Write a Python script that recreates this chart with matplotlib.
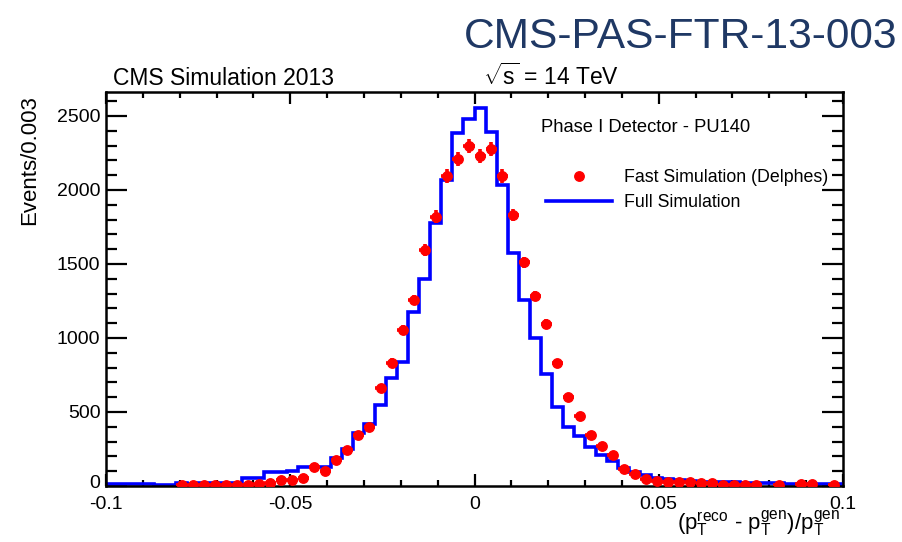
import numpy as np
import matplotlib
matplotlib.use("Agg")
import matplotlib.pyplot as plt
import matplotlib.transforms as mtransforms
from matplotlib.lines import Line2D
from matplotlib.ticker import MultipleLocator, FixedLocator

plt.rcParams['font.family'] = ['Liberation Sans', 'DejaVu Sans']
plt.rcParams['mathtext.fontset'] = 'custom'
plt.rcParams['mathtext.rm'] = 'Liberation Sans'
plt.rcParams['mathtext.it'] = 'Liberation Sans'
plt.rcParams['mathtext.default'] = 'regular'

# Binning of the resolution histogram: 0.003 wide bins, bin index k covers [k*w, (k+1)*w]
bin_width = 0.003
first_bin = -34
last_bin = 33

# Full simulation (histogram), bins k = -34 ... 33
full_sim = [15, 15, 12, 12, 12, 10, 10, 22, 15, 22,
            18, 18, 18, 52, 52, 97, 97, 100, 126, 128,
            130, 190, 250, 360, 420, 545, 728, 840, 1178, 1400,
            1775, 2068, 2383, 2478, 2553, 2394, 2034, 1572, 1257, 1002,
            757, 532, 397, 338, 266, 209, 169, 120, 93, 74,
            55, 45, 40, 35, 30, 28, 25, 25, 22, 20,
            20, 18, 15, 15, 14, 12, 12, 12]

# Fast simulation (Delphes) points, same bins; empty bins are not drawn
fast_sim = [0, 0, 0, 0, 0, 0, 0, 5, 6, 6,
            6, 7, 10, 10, 14, 18, 38, 40, 52, 126,
            103, 176, 240, 345, 400, 660, 833, 1054, 1257, 1595,
            1820, 2095, 2207, 2297, 2230, 2275, 2095, 1830, 1511, 1284,
            1095, 829, 604, 475, 345, 272, 209, 115, 79, 47,
            36, 29, 26, 25, 22, 18, 9, 9, 9, 9,
            0, 5, 0, 13, 13, 0, 9, 0]

x_ticks = [-0.1, -0.05, 0, 0.05, 0.1]
x_tick_labels = ["-0.1", "-0.05", "0", "0.05", "0.1"]
y_ticks = [0, 500, 1000, 1500, 2000, 2500]

full = np.array(full_sim, dtype=float)
fast = np.array(fast_sim, dtype=float)
edges = np.arange(first_bin, last_bin + 2) * bin_width
centers = 0.5 * (edges[:-1] + edges[1:])

fig = plt.figure(figsize=(9.02, 5.42), dpi=100)
ax = fig.add_axes([106 / 902, 1 - 486 / 542, 737 / 902, 394 / 542])

ax.stairs(full, edges, color='#0000ff', lw=2.6, baseline=None, zorder=2)

mask = fast > 0
ax.errorbar(centers[mask], fast[mask], yerr=np.sqrt(fast[mask]),
            xerr=0.0015, fmt='o', color='#ff0000', ms=6.8,
            elinewidth=2.6, capsize=0, zorder=3)

ax.set_xlim(-0.1, 0.1)
ax.set_ylim(0, 2662)

ax.xaxis.set_major_locator(FixedLocator(x_ticks))
ax.set_xticklabels(x_tick_labels)
ax.xaxis.set_minor_locator(MultipleLocator(0.01))
ax.yaxis.set_major_locator(FixedLocator(y_ticks))
ax.yaxis.set_minor_locator(MultipleLocator(100))

ax.tick_params(axis='both', which='both', direction='in', top=True, right=True,
               width=1.6, labelsize=14, colors='black')
ax.tick_params(axis='x', which='major', length=8.3, pad=7)
ax.tick_params(axis='x', which='minor', length=4.3)
ax.tick_params(axis='y', which='major', length=15, pad=4)
ax.tick_params(axis='y', which='minor', length=7.6)
for s in ax.spines.values():
    s.set_linewidth(1.8)

# lift the "0" label of the y axis a little so it clears the x labels
zero_label = ax.get_yticklabels()[0]
zero_label.set_transform(zero_label.get_transform() +
                         mtransforms.ScaledTranslation(0, 3 / 72, fig.dpi_scale_trans))

ax.text(0.59, 0.909, "Phase I Detector - PU140", transform=ax.transAxes,
        fontsize=13.2, ha='left', va='center')

handles = [Line2D([], [], marker='o', color='#ff0000', ls='none', ms=6.8),
           Line2D([], [], color='#0000ff', lw=2.6)]
ax.legend(handles, ["Fast Simulation (Delphes)", "Full Simulation"],
          loc='upper left', bbox_to_anchor=(0.597, 0.805), frameon=False,
          fontsize=12.8, handlelength=3.7, handletextpad=0.7,
          labelspacing=0.45, borderpad=0, borderaxespad=0)

fig.text(113 / 902, 1 - 85 / 542, "CMS Simulation 2013", fontsize=16.5,
         ha='left', va='baseline')
fig.text(483 / 902, 1 - 85 / 542, r"$\sqrt{s}$ = 14 TeV", fontsize=16.5,
         ha='left', va='baseline')
fig.text(0.9945, 1 - 48 / 542, "CMS-PAS-FTR-13-003", fontsize=30.6,
         color='#1f3864', ha='right', va='baseline')

fig.text(30 / 902, 1 - 95 / 542, "Events/0.003", rotation=90, fontsize=16,
         ha='center', va='top')
fig.text(840 / 902, 1 - 539 / 542,
         r"$(p_{T}^{reco}$ - $p_{T}^{gen})/p_{T}^{gen}$",
         fontsize=16, ha='right', va='bottom')

fig.savefig("out.png", dpi=100, facecolor='white')
